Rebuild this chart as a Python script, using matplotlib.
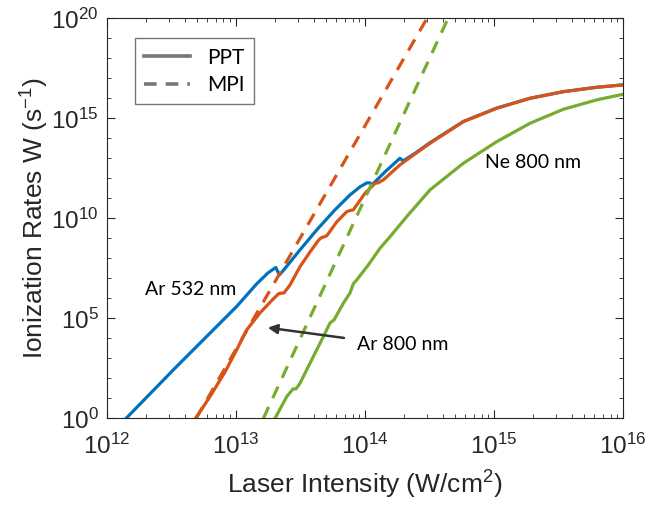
import numpy as np
import matplotlib
matplotlib.use('Agg')
import matplotlib.pyplot as plt
from matplotlib.lines import Line2D
from matplotlib.ticker import LogLocator, NullFormatter

plt.rcParams['mathtext.fontset'] = 'custom'
plt.rcParams['mathtext.rm'] = 'Liberation Sans'
plt.rcParams['mathtext.it'] = 'Liberation Sans:italic'
plt.rcParams['mathtext.bf'] = 'Liberation Sans:bold'
plt.rcParams['font.family'] = 'Liberation Sans'

# log10 of intensity (W/cm^2) and rate (1/s)
ar532_logI = [12.147, 12.540, 13.005, 13.160, 13.248, 13.308, 13.336, 13.364, 13.496,
              13.626, 13.767, 13.884, 13.961, 14.013, 14.039, 14.054, 14.155, 14.271,
              14.295, 14.388, 14.504, 14.762, 15.021, 15.279, 15.537, 15.796, 16.0]
ar532_logW = [0.0, 2.60, 5.60, 6.73, 7.28, 7.55, 7.18, 7.38, 8.43,
              9.43, 10.43, 11.18, 11.58, 11.78, 11.78, 11.68, 12.33, 13.01,
              12.88, 13.26, 13.79, 14.85, 15.52, 16.01, 16.34, 16.56, 16.68]

ar800_logI = [12.686, 12.798, 12.915, 13.005, 13.083, 13.186, 13.289, 13.333, 13.372,
              13.419, 13.496, 13.574, 13.638, 13.659, 13.703, 13.781, 13.858, 13.884,
              13.909, 14.000, 14.078, 14.101, 14.142, 14.271, 14.388, 14.504, 14.762,
              15.021, 15.279, 15.537, 15.796, 16.0]
ar800_logW = [0.0, 1.09, 2.33, 3.43, 4.43, 5.28, 5.98, 6.25, 6.28,
              6.68, 7.59, 8.33, 8.90, 9.03, 9.13, 9.83, 10.34, 10.40,
              10.43, 11.26, 11.76, 11.78, 11.93, 12.68, 13.23, 13.76, 14.84,
              15.51, 16.01, 16.34, 16.56, 16.68]

ne800_logI = [13.302, 13.393, 13.442, 13.465, 13.496, 13.599, 13.677, 13.729, 13.760,
              13.832, 13.884, 13.909, 13.936, 14.026, 14.116, 14.194, 14.323, 14.504,
              14.762, 15.021, 15.279, 15.537, 15.796, 16.0]
ne800_logW = [0.0, 1.09, 1.48, 1.48, 1.76, 3.09, 4.09, 4.78, 4.93,
              5.76, 6.28, 6.73, 6.93, 7.68, 8.51, 9.09, 10.09, 11.43,
              12.76, 13.84, 14.76, 15.46, 15.93, 16.21]

# multiphoton (MPI) straight lines
mpi_ar800_logI = [12.69, 14.48]
mpi_ar800_logW = [0.0, 20.0]
mpi_ne800_logI = [13.212, 14.643]
mpi_ne800_logW = [0.0, 20.0]

blue = '#0072BD'
orange = '#D95319'
green = '#77AC30'


def to_lin(v):
    return 10.0 ** np.array(v)


fig = plt.figure(figsize=(6.5, 5.09), dpi=100)
ax = fig.add_axes([0.1646, 0.1778, 0.7939, 0.7859])

lw = 2.3
ax.plot(to_lin(ar532_logI), to_lin(ar532_logW), '-', color=blue, lw=lw)
ax.plot(to_lin(ar800_logI), to_lin(ar800_logW), '-', color=orange, lw=lw)
ax.plot(to_lin(ne800_logI), to_lin(ne800_logW), '-', color=green, lw=lw)
ax.plot(to_lin(mpi_ar800_logI), to_lin(mpi_ar800_logW), color=orange, lw=lw, dashes=(4, 3))
ax.plot(to_lin(mpi_ne800_logI), to_lin(mpi_ne800_logW), color=green, lw=lw, dashes=(4, 3))

ax.set_xscale('log')
ax.set_yscale('log')
ax.set_xlim(1e12, 1e16)
ax.set_ylim(1e0, 1e20)
ax.set_xticks([1e12, 1e13, 1e14, 1e15, 1e16])
ax.set_yticks([1e0, 1e5, 1e10, 1e15, 1e20])
ax.yaxis.set_minor_locator(LogLocator(base=10, subs=(1.0,), numticks=30))
ax.yaxis.set_minor_formatter(NullFormatter())
ax.xaxis.set_minor_locator(LogLocator(base=10, subs=np.arange(2, 10), numticks=30))
ax.xaxis.set_minor_formatter(NullFormatter())

ax.tick_params(which='both', direction='in', top=True, right=True, color='#262626')
ax.tick_params(which='major', length=6, width=0.8, labelsize=17.5, labelcolor='#262626')
ax.tick_params(axis='x', which='major', pad=11)
ax.tick_params(axis='y', which='major', pad=6)
ax.tick_params(which='minor', length=3, width=0.6)
for s in ax.spines.values():
    s.set_color('#262626')
    s.set_linewidth(0.8)

ax.set_xlabel('Laser Intensity (W/cm$^2$)', fontsize=19, color='#262626', labelpad=7)
ax.set_ylabel('Ionization Rates W (s$^{-1}$)', fontsize=19, color='#262626', labelpad=0)

# annotations
ax.text(10 ** 12.295, 10 ** 6.43, 'Ar 532 nm', fontsize=14, family='Lato', va='center', ha='left')
ax.text(10 ** 14.93, 10 ** 12.78, 'Ne 800 nm', fontsize=14, family='Lato', va='center', ha='left')
ax.text(10 ** 13.938, 10 ** 3.68, 'Ar 800 nm', fontsize=14, family='Lato', va='center', ha='left')
ax.annotate('', xy=(10 ** 13.225, 10 ** 4.56), xytext=(10 ** 13.858, 10 ** 4.01),
            arrowprops=dict(arrowstyle='-|>', color='#333333', lw=1.8, mutation_scale=14))

handles = [Line2D([0], [0], color='#777777', lw=2.6, ls='-'),
           Line2D([0], [0], color='#777777', lw=2.6, dashes=(3.5, 2.5))]
leg = ax.legend(handles, ['PPT', 'MPI'], loc='upper left', bbox_to_anchor=(0.054, 0.9505),
                borderaxespad=0, fancybox=False, framealpha=1, edgecolor='#777777',
                prop={'family': 'Lato', 'size': 15}, handlelength=2.2, borderpad=0.45,
                labelspacing=0.35)
leg.get_frame().set_linewidth(1.0)

fig.savefig('out.png', dpi=100)
